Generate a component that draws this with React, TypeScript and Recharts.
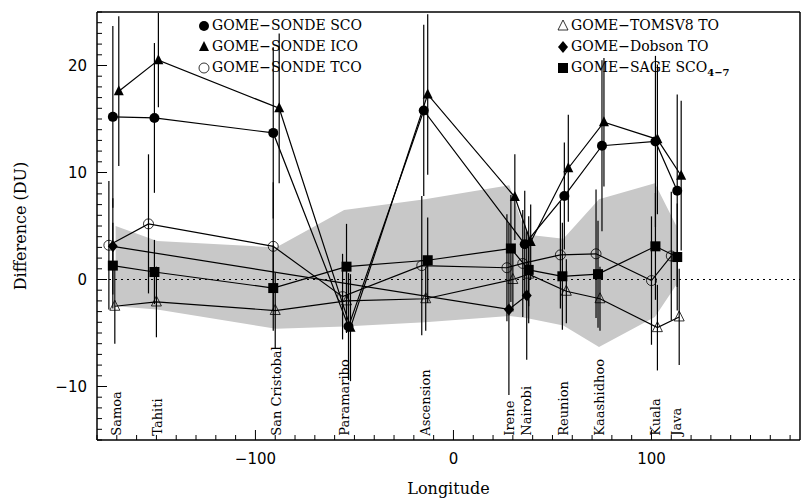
import React from "react";
import {
  ComposedChart,
  Scatter,
  Area,
  XAxis,
  YAxis,
  ErrorBar,
  ReferenceLine,
} from "recharts";

const stations = ["Samoa", "Tahiti", "San Cristobal", "Paramaribo", "Ascension", "Irene", "Nairobi", "Reunion", "Kaashidhoo", "Kuala", "Java"];
const stationLon = [-170.6, -149.6, -89.6, -55.2, -14.4, 28.2, 36.8, 55.5, 73.5, 101.7, 112.6];

const scoLon = [-172, -151, -91, -53, -15, 36, 56, 75, 102, 113];
const scoVal = [15.2, 15.1, 13.7, -4.4, 15.8, 3.3, 7.8, 12.5, 12.9, 8.3];
const scoErr = [8.5, 7, 8, 5, 8, 5, 5, 8, 8, 9];

const icoLon = [-169, -149, -88, -52, -13, 31, 39, 58, 76, 103, 115];
const icoVal = [17.6, 20.5, 16.0, -4.5, 17.3, 7.7, 3.5, 10.4, 14.7, 13.1, 9.7];
const icoErr = [7, 4.4, 7, 5, 7.5, 4, 3.5, 5, 6, 7, 7];

const tcoLon = [-174, -154, -91, -56, -16, 27, 35, 54, 72, 100, 110];
const tcoVal = [3.2, 5.2, 3.1, -1.6, 1.3, 1.1, 1.5, 2.3, 2.4, -0.1, 2.2];
const tcoErr = [6, 6.5, 6, 4, 6.5, 5, 5, 5, 6, 6, 6];

const tomsLon = [-171, -150, -90, -54, -14, 30, 38, 57, 74, 103, 114];
const tomsVal = [-2.5, -2.1, -2.9, -2.0, -1.8, 0.0, 0.5, -1.1, -1.8, -4.5, -3.5];
const tomsErr = [3.5, 3.3, 3.5, 3, 3, 3, 3, 3, 3, 4, 4.5];

const dobsonLon = [-172, 28, 37];
const dobsonVal = [3.1, -2.8, -1.5];
const dobsonErr = [4.5, 8, 6];

const sageLon = [-172, -151, -91, -54, -13, 29, 38, 55, 73, 102, 113];
const sageVal = [1.3, 0.7, -0.8, 1.2, 1.8, 2.9, 0.9, 0.3, 0.5, 3.1, 2.1];
const sageErr = [4, 3, 4, 4, 4, 5, 5, 5, 5, 5, 5];

const bandHigh = [5.0, 3.6, 3.0, 6.5, 7.5, 8.8, 4.2, 3.8, 7.5, 9.0, 5.0];
const bandLow = [-2.5, -2.8, -4.6, -4.4, -4.0, -3.4, -3.6, -4.3, -6.3, -3.5, -0.5];

const xTicks = Array.from({ length: 36 }, (_, i) => -180 + i * 10);
const yTicks = Array.from({ length: 41 }, (_, i) => -15 + i);

const mk = (lon: number[], val: number[], err: number[]) =>
  lon.map((x, i) => ({ x, y: val[i], err: err[i] }));

const band = stationLon.map((x, i) => ({ x, band: [bandLow[i], bandHigh[i]] }));
const labels = stationLon.map((x, i) => ({ x, y: -14.6, name: stations[i] }));

const S = 5;
const FilledCircle = ({ cx, cy }: any) => <circle cx={cx} cy={cy} r={S} fill="#000" />;
const OpenCircle = ({ cx, cy }: any) => <circle cx={cx} cy={cy} r={S} fill="none" stroke="#000" strokeWidth={0.8} />;
const FilledTri = ({ cx, cy }: any) => (
  <polygon points={`${cx},${cy - 6} ${cx - 5},${cy + 4} ${cx + 5},${cy + 4}`} fill="#000" />
);
const OpenTri = ({ cx, cy }: any) => (
  <polygon points={`${cx},${cy - 6} ${cx - 5},${cy + 4} ${cx + 5},${cy + 4}`} fill="none" stroke="#000" strokeWidth={0.8} />
);
const Diamond = ({ cx, cy }: any) => (
  <polygon points={`${cx},${cy - 6} ${cx - 5},${cy} ${cx},${cy + 6} ${cx + 5},${cy}`} fill="#000" />
);
const Square = ({ cx, cy }: any) => <rect x={cx - 5} y={cy - 5} width={10} height={10} fill="#000" />;
const StationLabel = ({ cx, cy, payload }: any) => (
  <text x={cx + 5} y={cy} transform={`rotate(-90 ${cx + 5} ${cy})`} fontFamily="DejaVu Serif" fontSize={13} fill="#000">
    {payload.name}
  </text>
);

const tickStyle = { fontFamily: "DejaVu Sans", fontSize: 15, fill: "#000" };
const fmt = (v: number) => (v < 0 ? "\u2212" + Math.abs(v) : String(v));

const XTick = ({ x, y, payload, top }: any) => {
  const major = Math.abs(payload.value) % 100 === 0;
  const len = major ? 10 : 5;
  const y0 = top ? y + 8 : y - 8;
  return (
    <g>
      <line x1={x} x2={x} y1={y0} y2={top ? y0 + len : y0 - len} stroke="#000" />
      {!top && major && (
        <text x={x} y={y0 + 24} textAnchor="middle" {...tickStyle}>{fmt(payload.value)}</text>
      )}
    </g>
  );
};
const YTick = ({ x, y, payload, right }: any) => {
  const major = Math.abs(payload.value) % 10 === 0;
  const len = major ? 10 : 5;
  const x0 = right ? x - 8 : x + 8;
  return (
    <g>
      <line y1={y} y2={y} x1={x0} x2={right ? x0 - len : x0 + len} stroke="#000" />
      {!right && major && (
        <text x={x0 - 10} y={y + 5} textAnchor="end" {...tickStyle}>{fmt(payload.value)}</text>
      )}
    </g>
  );
};

const legendFont: React.CSSProperties = { fontFamily: "DejaVu Serif", fontSize: 14, lineHeight: "21px" };
const Sym = ({ children }: any) => (
  <svg width={12} height={14} style={{ verticalAlign: "-2px", marginRight: 2 }}>{children}</svg>
);

const App = () => {
  const line = { stroke: "#000", strokeWidth: 1.2 };
  const series = [
    { d: mk(tomsLon, tomsVal, tomsErr), s: <OpenTri /> },
    { d: mk(dobsonLon, dobsonVal, dobsonErr), s: <Diamond /> },
    { d: mk(sageLon, sageVal, sageErr), s: <Square /> },
    { d: mk(tcoLon, tcoVal, tcoErr), s: <OpenCircle /> },
    { d: mk(scoLon, scoVal, scoErr), s: <FilledCircle /> },
    { d: mk(icoLon, icoVal, icoErr), s: <FilledTri /> },
  ];
  return (
    <div style={{ position: "absolute", left: 0, top: 0, width: 803, height: 499, background: "#fff" }}>
      <ComposedChart width={803} height={499} margin={{ top: 12, right: 3, left: 0, bottom: 9 }}>
        <XAxis type="number" dataKey="x" xAxisId="b" domain={[-180, 175]} ticks={xTicks} interval={0} tick={<XTick />} tickLine={false} axisLine={false} height={50} allowDataOverflow
          label={{ value: "Longitude", position: "insideBottom", offset: -4, style: { fontFamily: "DejaVu Serif", fontSize: 16, fill: "#000" } }} />
        <XAxis type="number" dataKey="x" xAxisId="t" orientation="top" domain={[-180, 175]} ticks={xTicks} interval={0} tick={<XTick top />} tickLine={false} axisLine={false} height={0} />
        <YAxis type="number" yAxisId="l" domain={[-15, 25]} ticks={yTicks} interval={0} tick={<YTick />} tickLine={false} axisLine={false} width={97} allowDataOverflow
          label={{ value: "Difference (DU)", angle: -90, position: "insideLeft", offset: 20, style: { fontFamily: "DejaVu Serif", fontSize: 16, fill: "#000", textAnchor: "middle" } }} />
        <YAxis type="number" yAxisId="r" orientation="right" domain={[-15, 25]} ticks={yTicks} interval={0} tick={<YTick right />} tickLine={false} axisLine={false} width={0} />
        <Area data={band} dataKey="band" xAxisId="b" yAxisId="l" type="linear" fill="#c8c8c8" fillOpacity={1} stroke="none" isAnimationActive={false} />
        <ReferenceLine y={0} xAxisId="b" yAxisId="l" stroke="#000" strokeDasharray="2 4" />
        {series.map((sr, i) => (
          <Scatter key={i} data={sr.d} dataKey="y" xAxisId="b" yAxisId="l" line={line} shape={sr.s} isAnimationActive={false}>
            <ErrorBar dataKey="err" direction="y" width={0} stroke="#000" strokeWidth={1.2} />
          </Scatter>
        ))}
        <Scatter data={labels} dataKey="y" xAxisId="b" yAxisId="l" shape={<StationLabel />} isAnimationActive={false} />
        <ReferenceLine y={25} xAxisId="b" yAxisId="l" stroke="#000" strokeWidth={1.5} />
        <ReferenceLine y={-15} xAxisId="b" yAxisId="l" stroke="#000" strokeWidth={1.5} />
        <ReferenceLine x={-180} xAxisId="b" yAxisId="l" stroke="#000" strokeWidth={1.5} />
        <ReferenceLine x={175} xAxisId="b" yAxisId="l" stroke="#000" strokeWidth={1.5} />
      </ComposedChart>
      <div style={{ position: "absolute", left: 198, top: 15, ...legendFont }}>
        <div><Sym><circle cx={6} cy={8} r={5} fill="#000" /></Sym>GOME−SONDE SCO</div>
        <div><Sym><polygon points="6,2 1,12 11,12" fill="#000" /></Sym>GOME−SONDE ICO</div>
        <div><Sym><circle cx={6} cy={8} r={5} fill="none" stroke="#000" strokeWidth={0.8} /></Sym>GOME−SONDE TCO</div>
      </div>
      <div style={{ position: "absolute", left: 557, top: 15, ...legendFont }}>
        <div><Sym><polygon points="6,2 1,12 11,12" fill="none" stroke="#000" strokeWidth={0.8} /></Sym>GOME−TOMSV8 TO</div>
        <div><Sym><polygon points="6,2 1,8 6,14 11,8" fill="#000" /></Sym>GOME−Dobson TO</div>
        <div><Sym><rect x={1} y={3} width={10} height={10} fill="#000" /></Sym>GOME−SAGE SCO<sub style={{ fontSize: 10, fontWeight: "bold" }}>4−7</sub></div>
      </div>
    </div>
  );
};

export default App;
